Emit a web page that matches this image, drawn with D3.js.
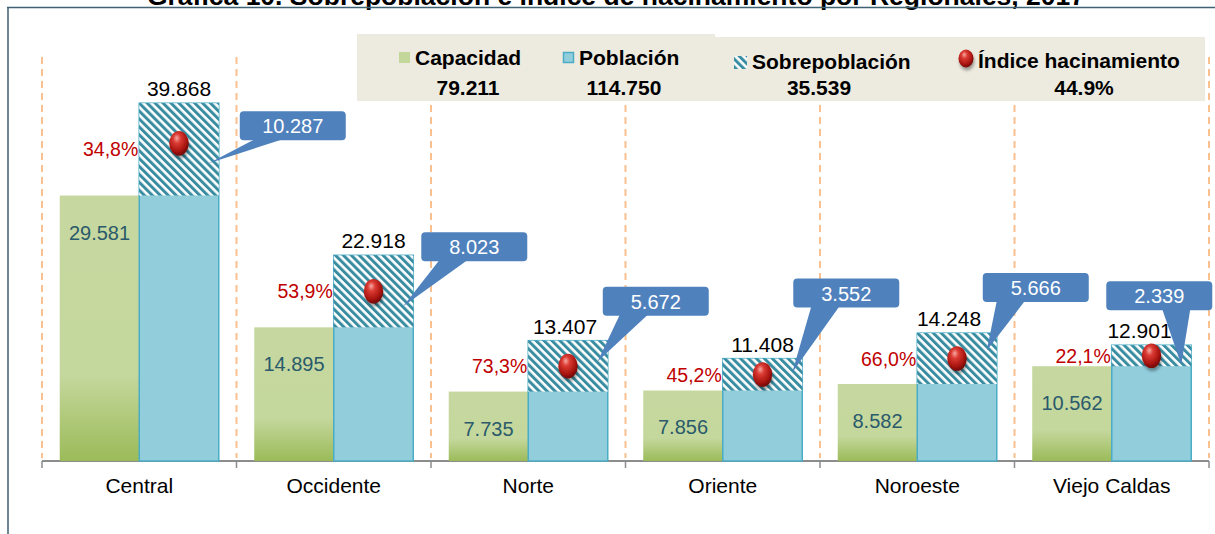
<!DOCTYPE html>
<html>
<head>
<meta charset="utf-8">
<script src="https://cdn.jsdelivr.net/npm/d3@7"></script>
<style>
  body { margin: 0; background: #fff; }
  svg { display: block; font-family: "Liberation Sans", Arial, sans-serif; }
</style>
</head>
<body>
<div id="chart"></div>
<script>
// datos por regional
const categories = ["Central", "Occidente", "Norte", "Oriente", "Noroeste", "Viejo Caldas"];
const capacidad  = [29581, 14895, 7735, 7856, 8582, 10562];
const poblacion  = [39868, 22918, 13407, 11408, 14248, 12901];
const indice     = [34.8, 53.9, 73.3, 45.2, 66.0, 22.1];
const indiceTotal = 44.9;
const yDomain = [0, 40000];

// ubicacion de los globos (solo layout): dx/dy respecto a la esquina sup. derecha de la barra azul
const calloutLayout = [
  { dx: 21,  dy: 8,   bx: 15, ty: 14, lx: 0 },
  { dx: 8,   dy: -23, bx: 18, ty: 15, lx: 0 },
  { dx: -5,  dy: -54, bx: 17, ty: -5, lx: -3 },
  { dx: -9,  dy: -80, bx: 18, ty: -2, lx: 0 },
  { dx: -14, dy: -60, bx: 14, ty: -8, lx: -8 },
  { dx: -85, dy: -64, bx: 56, ty: 9,  lx: -12 }
];

const es = d3.formatLocale({ decimal: ",", thousands: ".", grouping: [3], currency: ["", ""] });
const fmt = es.format(",d");
const pct = v => v.toFixed(1).replace(".", ",") + "%";

const width = 1215, height = 534;
const svg = d3.select("#chart").append("svg")
    .attr("width", width)
    .attr("height", height)
    .attr("viewBox", [0, 0, width, height]);

const defs = svg.append("defs");

// rayado de sobrepoblacion
const hatch = defs.append("pattern")
    .attr("id", "hatch")
    .attr("patternUnits", "userSpaceOnUse")
    .attr("width", 5.6).attr("height", 5.6)
    .attr("patternTransform", "rotate(-45)");
hatch.append("rect").attr("width", 5.6).attr("height", 5.6).attr("fill", "#fff");
hatch.append("rect").attr("width", 3).attr("height", 5.6).attr("fill", "#3A8DA1");

const gGreen = defs.append("linearGradient").attr("id", "green")
    .attr("x1", 0).attr("y1", 0).attr("x2", 0).attr("y2", 1);
gGreen.append("stop").attr("offset", "0%").attr("stop-color", "#C6D8A0");
gGreen.append("stop").attr("offset", "68%").attr("stop-color", "#C4D79C");
gGreen.append("stop").attr("offset", "100%").attr("stop-color", "#9BBB59");

const gBall = defs.append("radialGradient").attr("id", "ball")
    .attr("cx", "42%").attr("cy", "36%").attr("r", "65%").attr("fx", "38%").attr("fy", "28%");
gBall.append("stop").attr("offset", "0%").attr("stop-color", "#F7A9A4");
gBall.append("stop").attr("offset", "30%").attr("stop-color", "#DB3B33");
gBall.append("stop").attr("offset", "75%").attr("stop-color", "#A8140F");
gBall.append("stop").attr("offset", "100%").attr("stop-color", "#6E0705");

const shadow = defs.append("filter").attr("id", "shadow")
    .attr("x", "-50%").attr("y", "-50%").attr("width", "200%").attr("height", "200%");
shadow.append("feDropShadow").attr("dx", 1).attr("dy", 3).attr("stdDeviation", 1.8)
    .attr("flood-color", "#000").attr("flood-opacity", 0.35);

// escalas
const x = d3.scaleBand().domain(categories).range([42, 1209]);
const xs = d3.scaleBand().domain(["cap", "pob"]).range([0, x.bandwidth()]).paddingOuter(0.223);
const y = d3.scaleLinear().domain(yDomain).range([461, 102]);

// titulo (cortado arriba, como en la imagen)
svg.append("text")
    .attr("x", 616).attr("y", 5)
    .attr("text-anchor", "middle")
    .attr("font-size", 26.5).attr("font-weight", "bold")
    .text("Gráfica 10. Sobrepoblación e índice de hacinamiento por Regionales, 2017");

// marco
svg.append("path")
    .attr("d", "M7,7.5H1215M8,7V534")
    .attr("fill", "none").attr("stroke", "#3E6272").attr("stroke-width", 1.5);

// lineas punteadas de separacion
const bounds = categories.map(c => x(c)).concat([x.range()[1]]);
svg.append("g").selectAll("line").data(bounds).join("line")
    .attr("x1", d => d).attr("x2", d => d)
    .attr("y1", 57).attr("y2", 458)
    .attr("stroke", "#FAC08F").attr("stroke-width", 2).attr("stroke-dasharray", "7,5");

// leyenda
const leg = svg.append("g");
leg.append("rect").attr("x", 357).attr("y", 34).attr("width", 358).attr("height", 67).attr("fill", "#EDEBE0");
leg.append("rect").attr("x", 715).attr("y", 37).attr("width", 490).attr("height", 64).attr("fill", "#EDEBE0");

leg.append("rect").attr("x", 399).attr("y", 52).attr("width", 11).attr("height", 11).attr("fill", "#C4D79B");
leg.append("rect").attr("x", 563.5).attr("y", 52.5).attr("width", 10).attr("height", 10)
    .attr("fill", "#92CDDC").attr("stroke", "#4BACC6").attr("stroke-width", 1.5);
leg.append("rect").attr("x", 734).attr("y", 56).attr("width", 13).attr("height", 13).attr("fill", "url(#hatch)");
leg.append("ellipse").attr("cx", 966).attr("cy", 58.5).attr("rx", 7.5).attr("ry", 9)
    .attr("fill", "url(#ball)").attr("filter", "url(#shadow)");

const legItems = [
  { label: "Capacidad", lx: 415, ly: 65, value: fmt(d3.sum(capacidad)), vx: 468 },
  { label: "Población", lx: 579, ly: 65, value: fmt(d3.sum(poblacion)), vx: 624 },
  { label: "Sobrepoblación", lx: 752, ly: 69, value: fmt(d3.sum(poblacion) - d3.sum(capacidad)), vx: 819 },
  { label: "Índice hacinamiento", lx: 978, ly: 68, value: indiceTotal.toFixed(1) + "%", vx: 1084 }
];
leg.selectAll("text.l").data(legItems).join("text").attr("class", "l")
    .attr("x", d => d.lx).attr("y", d => d.ly)
    .attr("font-size", 21).attr("font-weight", "bold")
    .text(d => d.label);
leg.selectAll("text.v").data(legItems).join("text").attr("class", "v")
    .attr("x", d => d.vx).attr("y", 95)
    .attr("text-anchor", "middle")
    .attr("font-size", 21).attr("font-weight", "bold")
    .text(d => d.value);

// eje x
svg.append("g")
    .attr("transform", "translate(0,461)")
    .call(d3.axisBottom(x).tickSize(0).tickPadding(17))
    .call(g => g.select(".domain").remove())
    .call(g => g.selectAll("text").attr("font-size", 21).attr("fill", "#000")
        .attr("font-family", "'Liberation Sans', Arial, sans-serif"));

svg.append("line")
    .attr("x1", x.range()[0]).attr("x2", x.range()[1])
    .attr("y1", 461).attr("y2", 461)
    .attr("stroke", "#8C8C8C").attr("stroke-width", 2);
svg.append("g").selectAll("line").data(bounds).join("line")
    .attr("x1", d => d).attr("x2", d => d)
    .attr("y1", 461).attr("y2", 468)
    .attr("stroke", "#8C8C8C").attr("stroke-width", 1.5);

// barras
const rows = categories.map((c, i) => ({
  c, i,
  cap: capacidad[i],
  pob: poblacion[i],
  sob: poblacion[i] - capacidad[i],
  ind: indice[i]
}));

const g = svg.append("g").selectAll("g").data(rows).join("g")
    .attr("transform", d => `translate(${x(d.c)},0)`);

g.append("rect")
    .attr("x", xs("cap")).attr("width", xs.bandwidth())
    .attr("y", d => y(d.cap)).attr("height", d => y(0) - y(d.cap))
    .attr("fill", "url(#green)");

g.append("rect")
    .attr("x", xs("pob")).attr("width", xs.bandwidth())
    .attr("y", d => y(d.pob)).attr("height", d => y(0) - y(d.pob))
    .attr("fill", "#92CDDC").attr("stroke", "#4BACC6").attr("stroke-width", 1.5);

g.append("rect")
    .attr("x", xs("pob")).attr("width", xs.bandwidth())
    .attr("y", d => y(d.pob)).attr("height", d => y(d.cap) - y(d.pob))
    .attr("fill", "url(#hatch)");

const mid = d => y((d.cap + d.pob) / 2);
const cxPob = xs("pob") + xs.bandwidth() / 2;

g.append("ellipse")
    .attr("cx", cxPob).attr("cy", d => mid(d) - (d.i === 0 ? 6 : 0))
    .attr("rx", 9.7).attr("ry", 12.3)
    .attr("fill", "url(#ball)").attr("filter", "url(#shadow)");

// etiquetas
g.append("text")
    .attr("x", d => cxPob + calloutLayout[d.i].lx).attr("y", d => y(d.pob) - 7)
    .attr("text-anchor", "middle").attr("font-size", 21).attr("fill", "#000")
    .text(d => fmt(d.pob));

g.append("text")
    .attr("x", xs("cap") + xs.bandwidth() / 2).attr("y", d => y(d.cap) + 44)
    .attr("text-anchor", "middle").attr("font-size", 20).attr("fill", "#2A5A6B")
    .text(d => fmt(d.cap));

g.append("text")
    .attr("x", xs("pob") - 1).attr("y", d => mid(d) + 7)
    .attr("text-anchor", "end").attr("font-size", 19.5).attr("fill", "#C00000")
    .text(d => pct(d.ind));

// globos con la sobrepoblacion
const bw = 106, bh = 29;
const callout = g.append("g");
callout.each(function (d) {
  const L = calloutLayout[d.i];
  const right = xs("pob") + xs.bandwidth();
  const bx0 = right + L.dx, by0 = y(d.pob) + L.dy;
  const sel = d3.select(this);
  sel.append("path")
      .attr("d", `M${bx0 + L.bx},${by0 + bh - 1}L${bx0 + L.bx + 28},${by0 + bh - 1}L${right - 10},${mid(d) + L.ty}Z`)
      .attr("fill", "#4F81BD");
  sel.append("rect")
      .attr("x", bx0).attr("y", by0).attr("width", bw).attr("height", bh).attr("rx", 4)
      .attr("fill", "#4F81BD");
  sel.append("text")
      .attr("x", bx0 + bw / 2).attr("y", by0 + 22)
      .attr("text-anchor", "middle").attr("font-size", 20).attr("fill", "#fff")
      .text(fmt(d.sob));
});
</script>
</body>
</html>
